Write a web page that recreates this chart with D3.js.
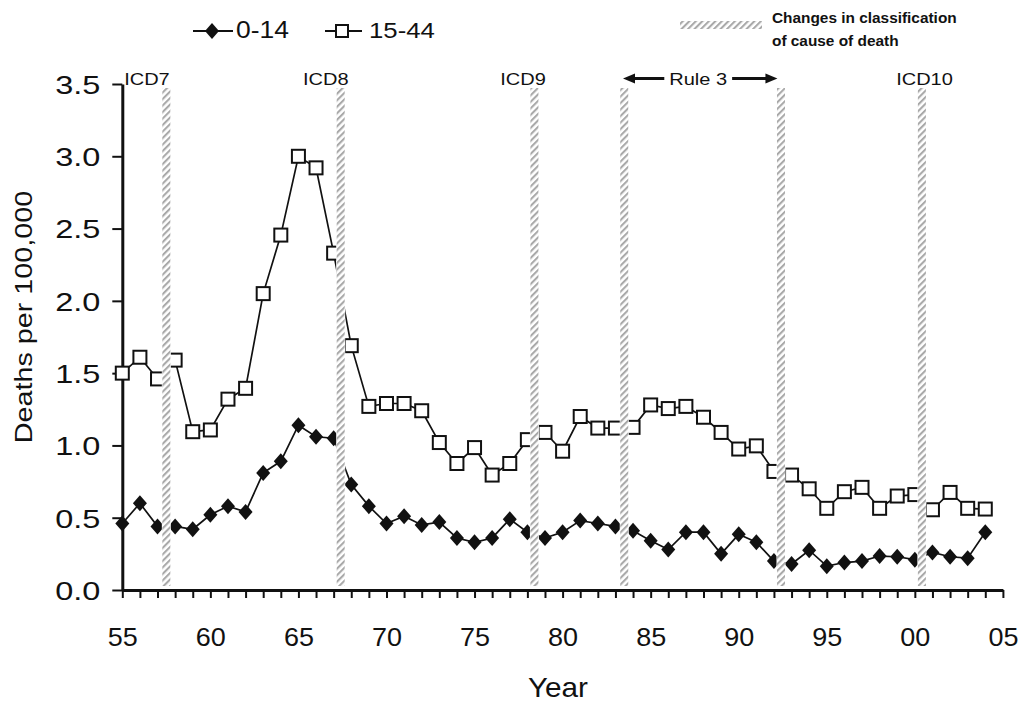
<!DOCTYPE html>
<html>
<head>
<meta charset="utf-8">
<script src="https://cdn.jsdelivr.net/npm/d3@7"></script>
<style>
  body { margin: 0; background: #fff; }
  svg { display: block; }
  text { font-family: "Liberation Sans", Arial, sans-serif; fill: #111; }
</style>
</head>
<body>
<svg id="chart" width="1019" height="704"></svg>
<script>
// Deaths per 100,000 by year, two age groups
const years = [1955,1956,1957,1958,1959,1960,1961,1962,1963,1964,
               1965,1966,1967,1968,1969,1970,1971,1972,1973,1974,
               1975,1976,1977,1978,1979,1980,1981,1982,1983,1984,
               1985,1986,1987,1988,1989,1990,1991,1992,1993,1994,
               1995,1996,1997,1998,1999,2000,2001,2002,2003,2004];

const age0to14 = [0.46,0.60,0.44,0.44,0.42,0.52,0.58,0.54,0.81,0.89,
                  1.14,1.06,1.05,0.73,0.58,0.46,0.51,0.45,0.47,0.36,
                  0.33,0.36,0.49,0.40,0.36,0.40,0.48,0.46,0.44,0.41,
                  0.34,0.28,0.40,0.40,0.25,0.385,0.33,0.20,0.18,0.275,
                  0.165,0.19,0.20,0.235,0.23,0.21,0.26,0.23,0.22,0.40];

const age15to44 = [1.50,1.61,1.46,1.59,1.095,1.107,1.32,1.395,2.05,2.455,
                   3.00,2.92,2.33,1.69,1.27,1.29,1.29,1.24,1.02,0.875,
                   0.985,0.795,0.875,1.04,1.09,0.96,1.20,1.12,1.12,1.125,
                   1.28,1.255,1.27,1.195,1.09,0.975,0.997,0.82,0.795,0.70,
                   0.565,0.68,0.71,0.565,0.65,0.66,0.555,0.675,0.565,0.56];

const seriesNames = ["0-14", "15-44"];

const yTicks = [0, 0.5, 1.0, 1.5, 2.0, 2.5, 3.0, 3.5];
const xTickYears = [1955,1960,1965,1970,1975,1980,1985,1990,1995,2000,2005];
const xTickLabels = ["55","60","65","70","75","80","85","90","95","00","05"];

// Years at which the classification of cause of death changed
const classificationChanges = [1957.5, 1967.4, 1978.4, 1983.5, 1992.4, 2000.4];
const changeLabels = [
  { text: "ICD7",  year: 1956.4 },
  { text: "ICD8",  year: 1966.55 },
  { text: "ICD9",  year: 1977.75 },
  { text: "ICD10", year: 2000.55 }
];
const rule3 = { text: "Rule 3", from: 1983.43, to: 1992.2, mid: 1987.7 };
const legendNote = ["Changes in classification", "of cause of death"];

const svg = d3.select("#chart");
svg.append("rect").attr("width", 1019).attr("height", 704).attr("fill", "#fff");

const x = d3.scaleLinear().domain([1955, 2005]).range([122.3, 1002.9]);
const y = d3.scaleLinear().domain([0, 3.5]).range([590, 84]);

// diagonal hatch used for the classification-change bands
const defs = svg.append("defs");
defs.append("pattern")
  .attr("id", "hatch")
  .attr("patternUnits", "userSpaceOnUse")
  .attr("width", 4.6).attr("height", 4.6)
  .attr("patternTransform", "rotate(45)")
  .append("rect")
  .attr("width", 2.1).attr("height", 4.6)
  .attr("fill", "#a9a9a9");

// ---- axes ----
const yAxis = d3.axisLeft(y)
  .tickValues(yTicks)
  .tickFormat(d3.format(".1f"))
  .tickSizeInner(10)
  .tickSizeOuter(0);

const gy = svg.append("g").attr("transform", `translate(${x.range()[0]},0)`).call(yAxis);
gy.select(".domain").attr("stroke", "#111").attr("stroke-width", 3);
gy.selectAll(".tick line").attr("stroke", "#111").attr("stroke-width", 2);
gy.selectAll(".tick text")
  .attr("font-size", 26)
  .attr("fill", "#222")
  .attr("x", -22 / 1.25)
  .attr("dy", "0.36em")
  .attr("transform", "scale(1.25,1)");

const allTickYears = Array.from(new Set([...years, ...xTickYears]));
const xAxis = d3.axisBottom(x)
  .tickValues(allTickYears)
  .tickFormat(d => {
    const i = xTickYears.indexOf(d);
    return i >= 0 ? xTickLabels[i] : "";
  })
  .tickSizeInner(8)
  .tickSizeOuter(0);

const gx = svg.append("g").attr("transform", `translate(0,${y(0)})`).call(xAxis);
gx.select(".domain").attr("stroke", "#111").attr("stroke-width", 3);
gx.selectAll(".tick line").attr("stroke", "#111").attr("stroke-width", 2);
gx.selectAll(".tick text")
  .attr("font-size", 25)
  .attr("fill", "#222")
  .attr("y", 56)
  .attr("dy", 0)
  .attr("transform", "scale(1.08,1)");

// axis titles
svg.append("text")
  .attr("transform", "translate(32,317) rotate(-90) scale(1.25,1)")
  .attr("text-anchor", "middle")
  .attr("font-size", 23)
  .attr("fill", "#222")
  .text("Deaths per 100,000");

svg.append("text")
  .attr("transform", "translate(558,697) scale(1.1,1)")
  .attr("text-anchor", "middle")
  .attr("font-size", 27)
  .attr("fill", "#222")
  .text("Year");

// ---- series ----
const rows = years.map((yr, i) => ({ year: yr, a: age0to14[i], b: age15to44[i] }));

const line = key => d3.line().x(d => x(d.year)).y(d => y(d[key]));

svg.append("path").datum(rows)
  .attr("fill", "none").attr("stroke", "#111").attr("stroke-width", 1.7)
  .attr("d", line("b"));
svg.append("path").datum(rows)
  .attr("fill", "none").attr("stroke", "#111").attr("stroke-width", 1.7)
  .attr("d", line("a"));

const diamond = {
  draw(ctx) {
    const w = 7, h = 8;
    ctx.moveTo(0, -h); ctx.lineTo(w, 0); ctx.lineTo(0, h); ctx.lineTo(-w, 0); ctx.closePath();
  }
};

svg.append("g").selectAll("rect").data(rows).join("rect")
  .attr("x", d => x(d.year) - 6.5)
  .attr("y", d => y(d.b) - 6.5)
  .attr("width", 13).attr("height", 13)
  .attr("fill", "#fff").attr("stroke", "#111").attr("stroke-width", 2);

svg.append("g").selectAll("path").data(rows).join("path")
  .attr("transform", d => `translate(${x(d.year)},${y(d.a)})`)
  .attr("d", d3.symbol(diamond)())
  .attr("fill", "#111");

// ---- classification-change bands ----
const bandTop = 88, bandBottom = 586, bandW = 9;
const bands = svg.append("g");
bands.selectAll("rect.cover").data(classificationChanges).join("rect")
  .attr("class", "cover")
  .attr("x", d => x(d) - bandW / 2).attr("y", bandTop)
  .attr("width", bandW).attr("height", bandBottom - bandTop)
  .attr("fill", "#fff");
bands.selectAll("rect.hatch").data(classificationChanges).join("rect")
  .attr("class", "hatch")
  .attr("x", d => x(d) - 4).attr("y", bandTop)
  .attr("width", 8).attr("height", bandBottom - bandTop)
  .attr("fill", "url(#hatch)");

// ---- annotations ----
svg.append("g").selectAll("text").data(changeLabels).join("text")
  .attr("transform", d => `translate(${x(d.year)},85) scale(1.25,1)`)
  .attr("text-anchor", "middle")
  .attr("font-size", 16)
  .attr("fill", "#222")
  .text(d => d.text);

const ruleText = svg.append("text")
  .attr("transform", `translate(${x(rule3.mid)},85) scale(1.25,1)`)
  .attr("text-anchor", "middle")
  .attr("font-size", 16)
  .attr("fill", "#222")
  .text(rule3.text);
const tw = ruleText.node().getComputedTextLength() * 1.25;
const cx = x(rule3.mid), ay = 78.5;

function arrow(tip, tail) {
  const dir = Math.sign(tail - tip);
  svg.append("line")
    .attr("x1", tip + dir * 8).attr("x2", tail)
    .attr("y1", ay).attr("y2", ay)
    .attr("stroke", "#111").attr("stroke-width", 3);
  svg.append("path")
    .attr("d", `M${tip},${ay} L${tip + dir * 12},${ay - 5} L${tip + dir * 12},${ay + 5} Z`)
    .attr("fill", "#111");
}
arrow(x(rule3.from), cx - tw / 2 - 5);
arrow(x(rule3.to), cx + tw / 2 + 5);

// ---- legend ----
const lg = svg.append("g");
lg.append("line").attr("x1", 193).attr("x2", 233).attr("y1", 31).attr("y2", 31)
  .attr("stroke", "#111").attr("stroke-width", 2);
lg.append("path").attr("transform", "translate(212,31)")
  .attr("d", d3.symbol(diamond)()).attr("fill", "#111");
lg.append("text").attr("transform", "translate(236,38) scale(1.15,1)")
  .attr("font-size", 23).attr("fill", "#222").text(seriesNames[0]);

lg.append("line").attr("x1", 325).attr("x2", 362).attr("y1", 31).attr("y2", 31)
  .attr("stroke", "#111").attr("stroke-width", 2);
lg.append("rect").attr("x", 342 - 6).attr("y", 31 - 6).attr("width", 12).attr("height", 12)
  .attr("fill", "#fff").attr("stroke", "#111").attr("stroke-width", 2);
lg.append("text").attr("transform", "translate(369,38) scale(1.12,1)")
  .attr("font-size", 23).attr("fill", "#222").text(seriesNames[1]);

lg.append("rect").attr("x", 680).attr("y", 21).attr("width", 82).attr("height", 8)
  .attr("fill", "url(#hatch)");
lg.selectAll("text.note").data(legendNote).join("text")
  .attr("class", "note")
  .attr("transform", (d, i) => `translate(772,${23 + i * 23}) scale(1.1,1)`)
  .attr("font-size", 14)
  .attr("font-weight", "bold")
  .attr("fill", "#222")
  .text(d => d);
</script>
</body>
</html>
